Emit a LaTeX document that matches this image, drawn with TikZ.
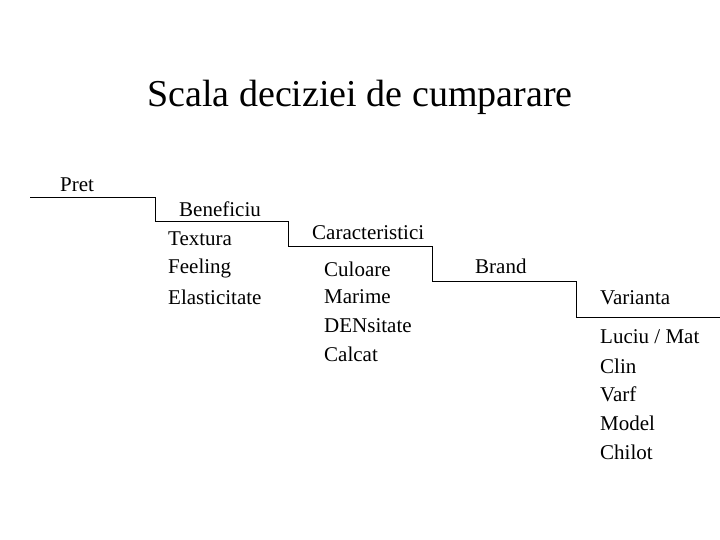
\documentclass[tikz,border=0pt]{standalone}
\usepackage{fontspec}
\setmainfont{Liberation Serif}
\begin{document}
\begin{tikzpicture}[x=1pt,y=-1pt,
  lbl/.style={font=\fontsize{21}{24}\selectfont,anchor=west,inner sep=0pt},
  stair/.style={line width=1pt}]
\useasboundingbox (0,0) rectangle (720,540);
\node[font=\fontsize{38}{44}\selectfont] (title) at (360,97) {Scala deciziei de cumparare};
\coordinate (p0) at (30,198);
\coordinate (p1) at (155,198);
\coordinate (p2) at (155,222);
\coordinate (p3) at (288,222);
\coordinate (p4) at (288,246);
\coordinate (p5) at (432,246);
\coordinate (p6) at (432,281);
\coordinate (p7) at (576,281);
\coordinate (p8) at (576,317);
\coordinate (p9) at (720,317);
\draw[stair] (p0)--(p1)--(p2)--(p3)--(p4)--(p5)--(p6)--(p7)--(p8)--(p9);
\node[lbl] (pret) at (60,185) {Pret};
\node[lbl] (ben) at (179,209) {Beneficiu};
\node[lbl] (tex) at (168,239) {Textura};
\node[lbl] (fee) at (168,268) {Feeling};
\node[lbl] (ela) at (168,297) {Elasticitate};
\node[lbl] (car) at (312,233) {Caracteristici};
\node[lbl] (cul) at (324,269) {Culoare};
\node[lbl] (mar) at (324,297) {Marime};
\node[lbl] (den) at (324,326) {DENsitate};
\node[lbl] (cal) at (324,354) {Calcat};
\node[lbl] (bra) at (475,266) {Brand};
\node[lbl] (var) at (600,298) {Varianta};
\node[lbl] (luc) at (600,337) {Luciu / Mat};
\node[lbl] (cli) at (600,366) {Clin};
\node[lbl] (vaf) at (600,394) {Varf};
\node[lbl] (mod) at (600,423) {Model};
\node[lbl] (chi) at (600,452) {Chilot};
\end{tikzpicture}
\end{document}
